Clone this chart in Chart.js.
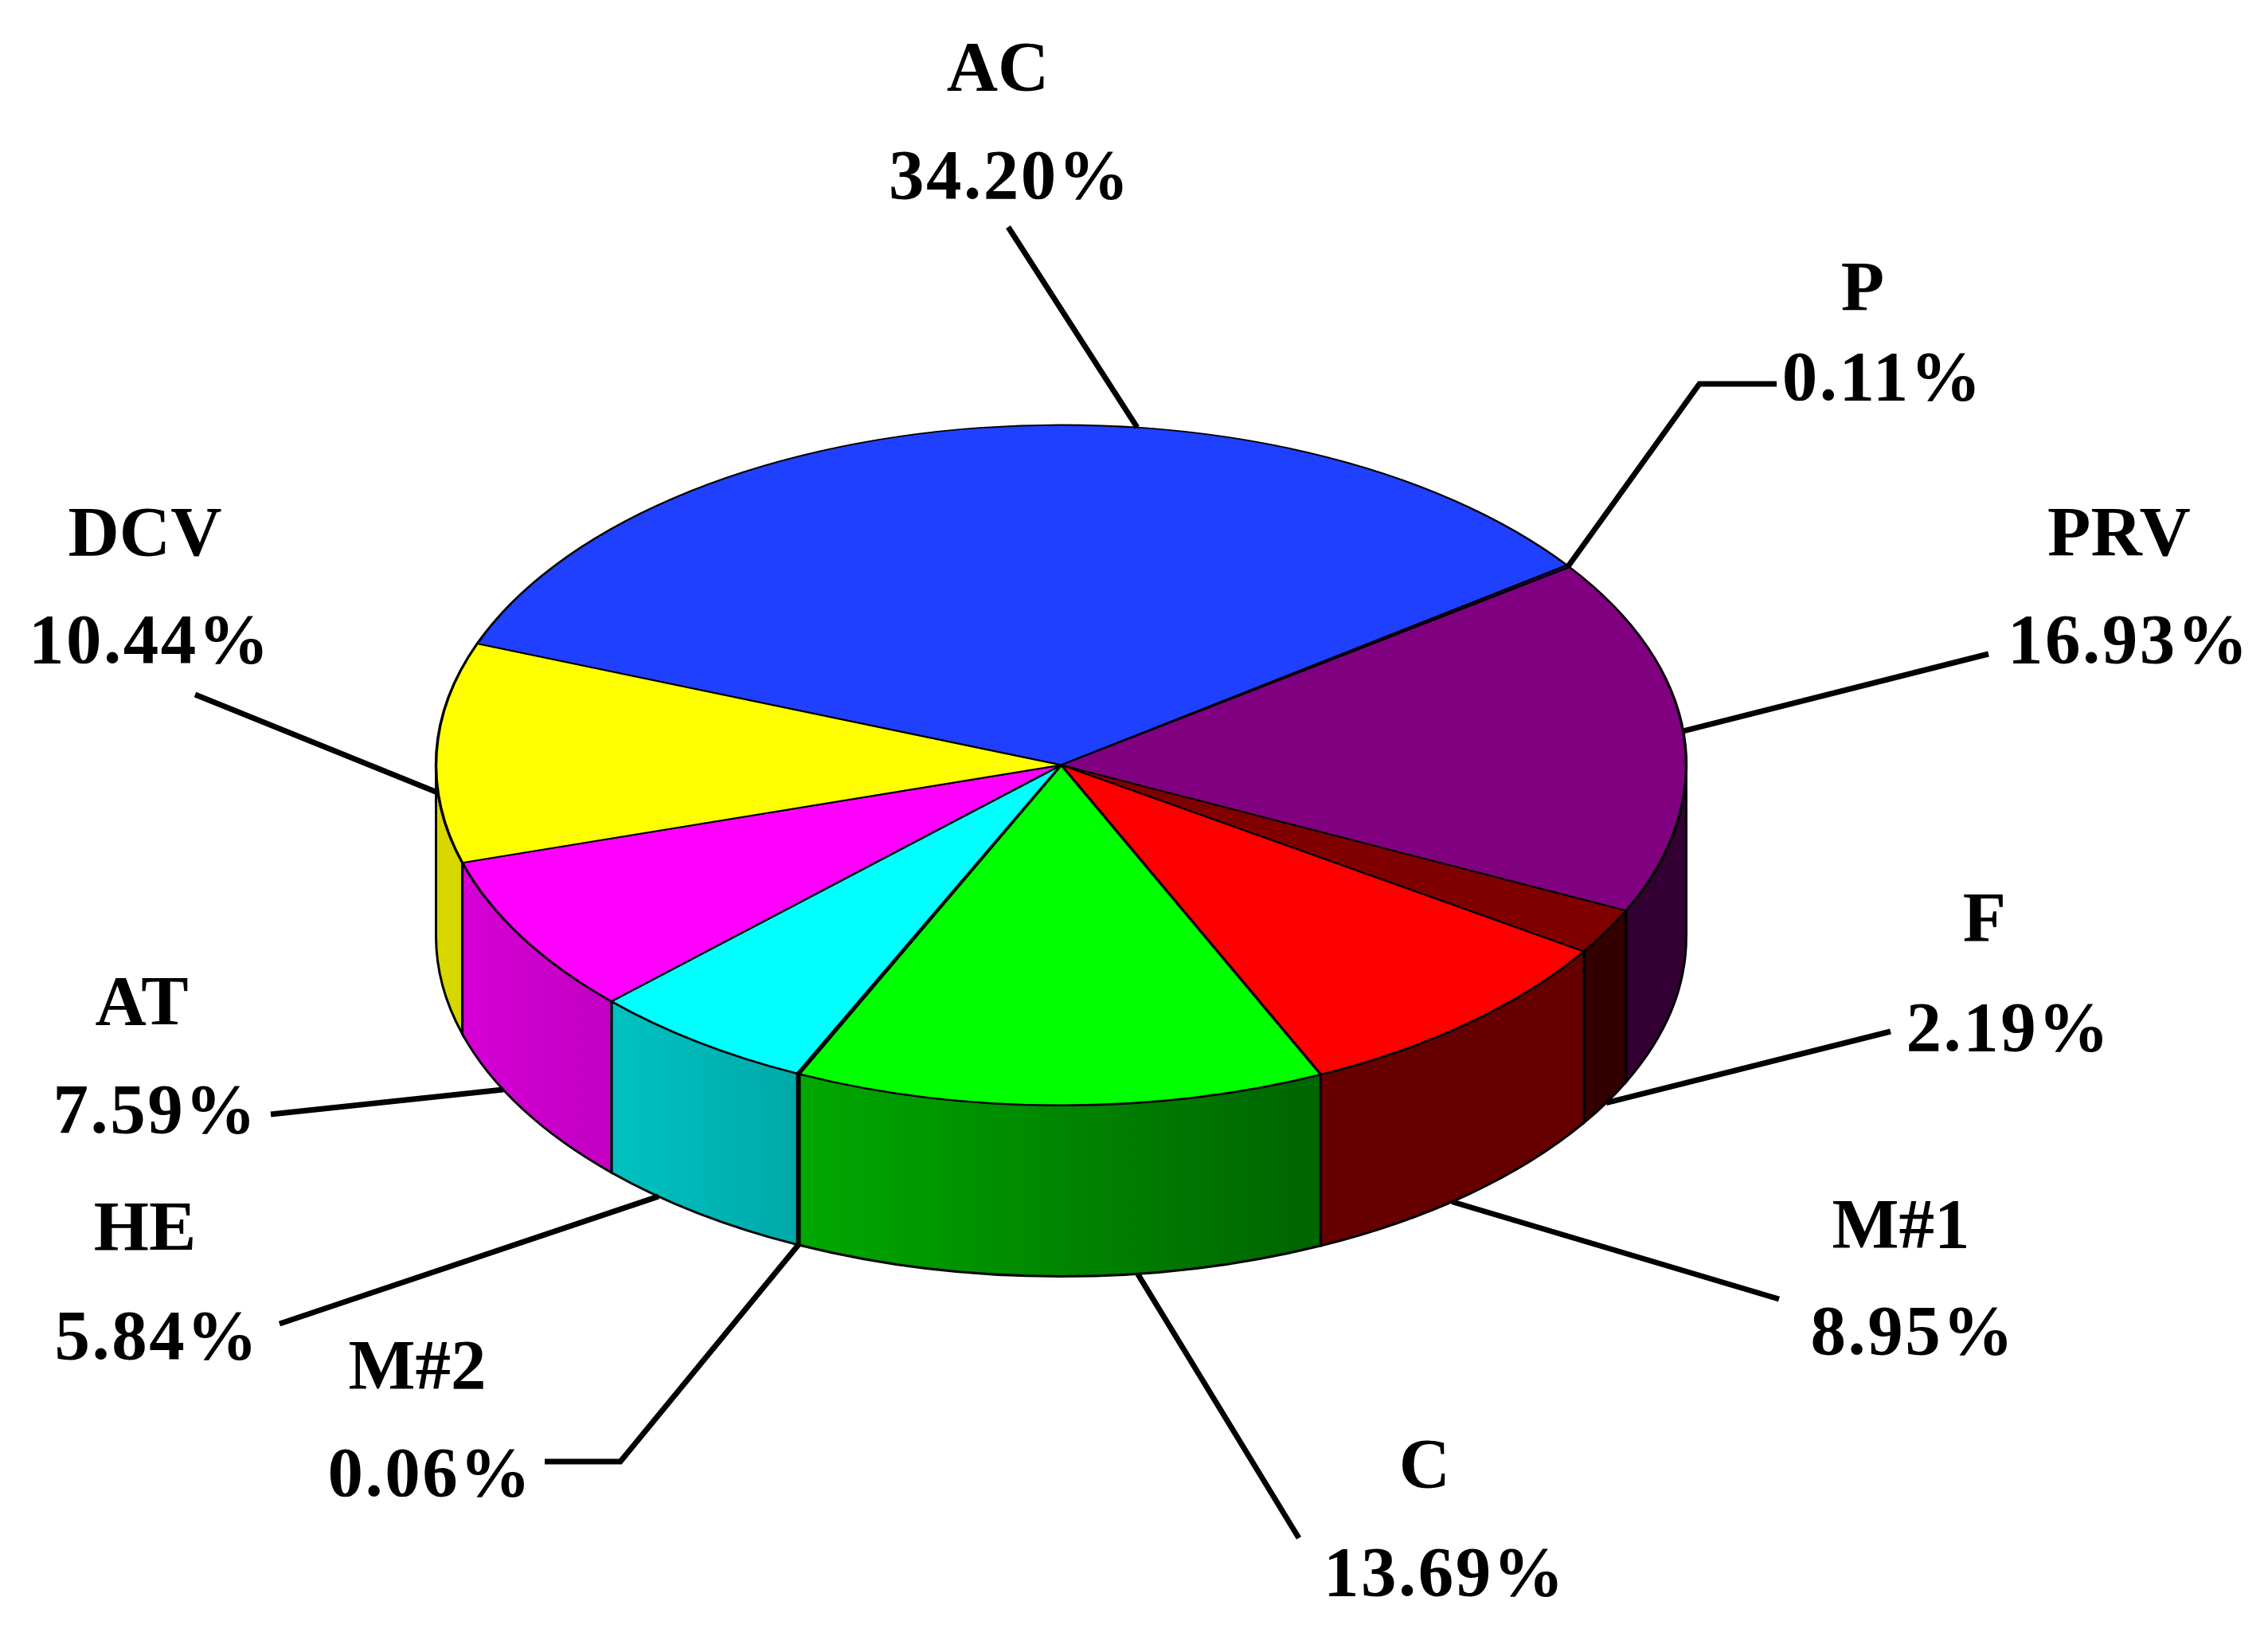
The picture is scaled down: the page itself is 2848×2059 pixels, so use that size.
<!DOCTYPE html>
<html>
<head>
<meta charset="utf-8">
<script src="https://cdn.jsdelivr.net/npm/chart.js@4.4.1/dist/chart.umd.min.js"></script>
<style>
    html, body { margin: 0; padding: 0; background: #ffffff; }
    #wrap { width: 2848px; height: 2059px; }
</style>
</head>
<body>
<div id="wrap"><canvas id="pieChart" width="2848" height="2059"></canvas></div>
<script>
// Share of each component (%), clockwise from AC
const labels = ['AC', 'P', 'PRV', 'F', 'M#1', 'C', 'M#2', 'HE', 'AT', 'DCV'];
const shares = [34.20, 0.11, 16.93, 2.19, 8.95, 13.69, 0.06, 5.84, 7.59, 10.44];
const colors = ['#2040ff', '#1a1a80', '#800080', '#800000', '#ff0000', '#00ff00', '#008080', '#00ffff', '#ff00ff', '#ffff00'];

// label layout: [nameX, nameY, pctX, pctY] (text baselines)
const labelPos = [
    [1253, 113, 1267, 249],
    [2339, 389, 2363, 502],
    [2661, 697, 2672, 832],
    [2492, 1181, 2521, 1319],
    [2387, 1566, 2401, 1700],
    [1789, 1867, 1813, 2003],
    [524, 1743, 539, 1878],
    [182, 1569, 196, 1706],
    [178, 1286, 194, 1422],
    [182, 697, 187, 832]
];
const leaderStart = [
    [1266, 285], [2231, 482], [2497, 821], [2374, 1295], [2234, 1631],
    [1631, 1931], [684, 1835], [351, 1662], [340, 1399], [245, 872]
];
const leaderElbow = [null, [2134, 482], null, null, null, null, [779, 1835], null, null, null];
// where along the slice the leader meets the pie, and whether on the lower rim
const anchorFrac = [0.618, 0.5, 0.49, 0.5, 0.56, 0.355, 0.5, 0.72, 0.63, 0.32];
const anchorOnBase = [false, false, false, true, true, true, true, true, true, false];

const TILT = 0.544;
const DEPTH = 215;
const LABEL_FONT = 'bold 89px "Liberation Serif", "Times New Roman", serif';

function shade(hex, f) {
    const n = parseInt(hex.slice(1), 16);
    const r = Math.round(((n >> 16) & 255) * f);
    const g = Math.round(((n >> 8) & 255) * f);
    const b = Math.round((n & 255) * f);
    return `rgb(${r}, ${g}, ${b})`;
}

// parts of [s, e] that lie on the front half (0..PI, modulo 2PI)
function visibleParts(s, e) {
    const parts = [];
    for (let n = -2; n <= 2; n++) {
        const lo = Math.max(s, 2 * Math.PI * n);
        const hi = Math.min(e, 2 * Math.PI * n + Math.PI);
        if (hi > lo) parts.push([lo, hi]);
    }
    return parts;
}

const pie3d = {
    id: 'pie3d',
    beforeDatasetsDraw(chart) {
        const ctx = chart.ctx;
        const arcs = chart.getDatasetMeta(0).data;
        const cx = arcs[0].x, cy = arcs[0].y, r = arcs[0].outerRadius;
        const ry = r * TILT;

        ctx.save();
        arcs.forEach((arc, i) => {
            visibleParts(arc.startAngle, arc.endAngle).forEach(([a, b]) => {
                const grad = ctx.createLinearGradient(cx - r, 0, cx + r, 0);
                grad.addColorStop(0, shade(colors[i], 0.85));
                grad.addColorStop(0.69, shade(colors[i], 0.40));
                grad.addColorStop(1, shade(colors[i], 0.40));
                ctx.beginPath();
                ctx.ellipse(cx, cy, r, ry, 0, a, b);
                ctx.ellipse(cx, cy + DEPTH, r, ry, 0, b, a, true);
                ctx.closePath();
                ctx.fillStyle = grad;
                ctx.fill();
                ctx.lineWidth = 3;
                ctx.strokeStyle = '#000000';
                ctx.stroke();
            });
        });
        ctx.restore();

        // squash the top face into an ellipse
        ctx.save();
        ctx.translate(cx, cy);
        ctx.scale(1, TILT);
        ctx.translate(-cx, -cy);
    },
    afterDatasetsDraw(chart) {
        const ctx = chart.ctx;
        ctx.restore();

        const arcs = chart.getDatasetMeta(0).data;
        const cx = arcs[0].x, cy = arcs[0].y, r = arcs[0].outerRadius;
        const ry = r * TILT;

        ctx.save();
        ctx.strokeStyle = '#000000';
        ctx.lineWidth = 7;
        ctx.lineJoin = 'miter';
        arcs.forEach((arc, i) => {
            const a = arc.startAngle + anchorFrac[i] * (arc.endAngle - arc.startAngle);
            const ax = cx + r * Math.cos(a);
            const ay = cy + ry * Math.sin(a) + (anchorOnBase[i] ? DEPTH : 0);
            ctx.beginPath();
            ctx.moveTo(leaderStart[i][0], leaderStart[i][1]);
            if (leaderElbow[i]) ctx.lineTo(leaderElbow[i][0], leaderElbow[i][1]);
            ctx.lineTo(ax, ay);
            ctx.stroke();
        });

        ctx.fillStyle = '#000000';
        ctx.font = LABEL_FONT;
        ctx.textAlign = 'center';
        ctx.textBaseline = 'alphabetic';
        labels.forEach((name, i) => {
            const p = labelPos[i];
            ctx.letterSpacing = '0px';
            ctx.fillText(name, p[0], p[1]);
            ctx.letterSpacing = '2.5px';
            ctx.fillText(shares[i].toFixed(2) + '%', p[2] + 1, p[3]);
        });
        ctx.restore();
    }
};

const ctx = document.getElementById('pieChart').getContext('2d');
new Chart(ctx, {
    type: 'pie',
    data: {
        labels: labels,
        datasets: [{
            data: shares,
            backgroundColor: colors,
            borderColor: '#000000',
            borderWidth: 3.5,
            hoverOffset: 0,
            radius: 785,
            rotation: -69.1
        }]
    },
    options: {
        responsive: false,
        animation: false,
        devicePixelRatio: 1,
        events: [],
        rotation: -69.1,
        radius: 785,
        layout: { padding: { left: 0, right: 183, top: 0, bottom: 138 } },
        plugins: {
            legend: { display: false },
            tooltip: { enabled: false }
        }
    },
    plugins: [pie3d]
});
</script>
</body>
</html>
